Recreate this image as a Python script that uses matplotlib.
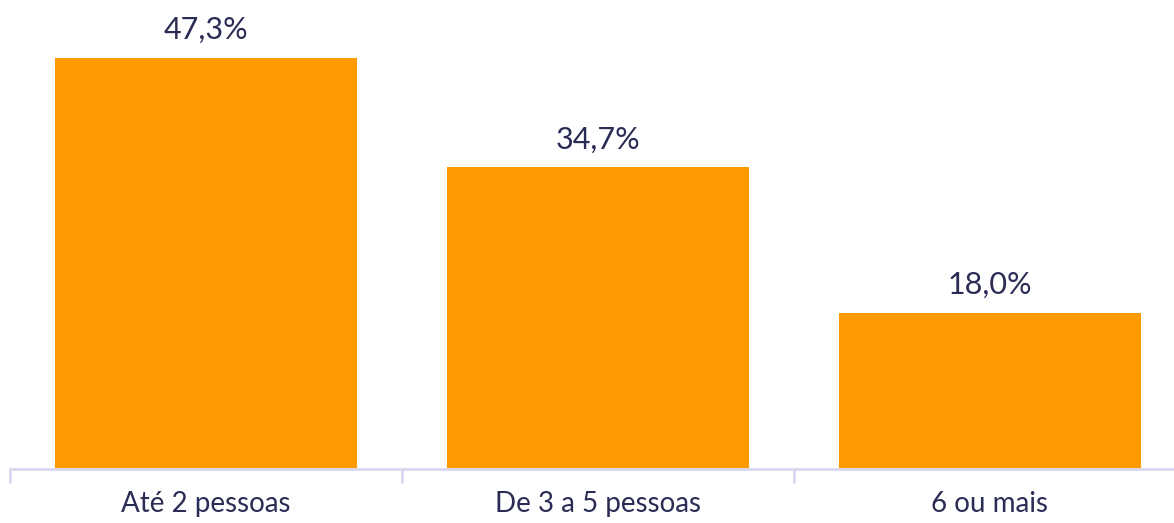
import matplotlib.pyplot as plt
import numpy as np

categories = ["Até 2 pessoas", "De 3 a 5 pessoas", "6 ou mais"]
values = [47.3, 34.7, 18.0]
value_labels = ["47,3%", "34,7%", "18,0%"]

plt.rcParams['font.family'] = ['Lato', 'DejaVu Sans']
text_color = "#2b2c55"
bar_color = "#ff9a00"
axis_color = "#d8d8ee"

fig = plt.figure(figsize=(11.74, 5.23), dpi=100)
ax = fig.add_axes([10 / 1174, 54 / 523, 1176 / 1174, 434.5 / 523])

x = np.arange(len(categories))
ax.bar(x, values, width=0.768, color=bar_color)
for xi, v, lab in zip(x, values, value_labels):
    ax.text(xi, v + 1.6, lab, ha='center', va='bottom', fontsize=22, color=text_color)

ax.set_xlim(-0.5, len(categories) - 0.5)
ax.set_ylim(0, 50)
ax.set_yticks([])
for s in ['top', 'right', 'left']:
    ax.spines[s].set_visible(False)
ax.spines['bottom'].set_color(axis_color)
ax.spines['bottom'].set_linewidth(2)

ax.set_xticks(x)
ax.set_xticklabels(categories, fontsize=20, color=text_color)
ax.tick_params(axis='x', which='major', length=0, pad=16)
ax.set_xticks(np.arange(len(categories) + 1) - 0.5, minor=True)
ax.tick_params(axis='x', which='minor', length=10, width=2, color=axis_color)

fig.savefig("out.png", dpi=100)
